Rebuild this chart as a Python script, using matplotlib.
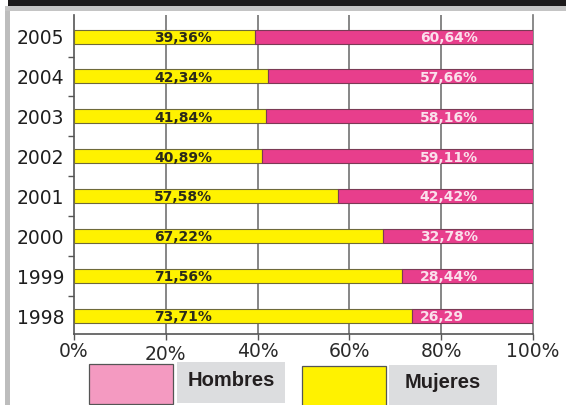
import numpy as np
import matplotlib
matplotlib.use("Agg")
import matplotlib.pyplot as plt
import matplotlib.transforms as mtransforms
from matplotlib.patches import Rectangle

# data (percent), top to bottom as in the picture
years = ["2005", "2004", "2003", "2002", "2001", "2000", "1999", "1998"]
mujeres = [39.36, 42.34, 41.84, 40.89, 57.58, 67.22, 71.56, 73.71]
hombres = [60.64, 57.66, 58.16, 59.11, 42.42, 32.78, 28.44, 26.29]
muj_labels = ["39,36%", "42,34%", "41,84%", "40,89%", "57,58%", "67,22%", "71,56%", "73,71%"]
hom_labels = ["60,64%", "57,66%", "58,16%", "59,11%", "42,42%", "32,78%", "28,44%", "26,29"]
xticks = [0, 20, 40, 60, 80, 100]

YELLOW = "#fff200"
MAGENTA = "#e83e8c"
PINK = "#f49ac1"
GREYBOX = "#dcdddf"

W, H = 566, 405
fig = plt.figure(figsize=(W / 100, H / 100), dpi=100)
fig.patch.set_facecolor("white")


def px_rect(x0, y0, x1, y1, **kw):
    # rectangle given in pixels, origin top-left
    r = Rectangle((x0 / W, 1 - y1 / H), (x1 - x0) / W, (y1 - y0) / H,
                  transform=fig.transFigure, **kw)
    fig.add_artist(r)
    return r


# frame decoration
px_rect(8, 0, W, 6, facecolor="#1c1a1b", edgecolor="none")
px_rect(5, 6, W, 11, facecolor="#c4c4c4", edgecolor="none")
px_rect(5, 11, 10, H, facecolor="#bdbdbd", edgecolor="none")

# axes area in pixels: x 74..533, y 15..334
ax = fig.add_axes([74 / W, 1 - 334 / H, (533 - 74) / W, (334 - 15) / H])
ypos = np.arange(len(years))

ax.barh(ypos, mujeres, height=0.35, color=YELLOW, edgecolor="#6e6a3a",
        linewidth=0.8, zorder=3)
ax.barh(ypos, hombres, left=mujeres, height=0.35, color=MAGENTA,
        edgecolor="#7a3a55", linewidth=0.8, zorder=3)

for i in ypos:
    ax.text(17.5, i + 0.03, muj_labels[i], ha="left", va="center",
            fontsize=10, fontweight="bold", color="#2a2a1a",
            family="DejaVu Sans", zorder=4)
    ax.text(75.3, i + 0.03, hom_labels[i], ha="left", va="center",
            fontsize=10, fontweight="bold", color="#fbe0ec",
            family="DejaVu Sans", zorder=4)

ax.set_xlim(0, 100)
ax.set_ylim(7.45, -0.54)
ax.set_xticks(xticks)
ax.set_xticklabels([f"{t}%" for t in xticks], fontsize=13.5,
                   family="DejaVu Sans", color="#2a2a2a")
ax.set_yticks(ypos)
ax.set_yticklabels(years, fontsize=13.5, family="DejaVu Sans", color="#1e1e1e")
ax.set_yticks(ypos[:-1] + 0.5, minor=True)
ax.tick_params(axis="y", which="major", length=0, pad=7)
ax.tick_params(axis="y", which="minor", length=4, width=1, color="#555555")
ax.tick_params(axis="x", length=4, width=1, color="#555555", pad=2)

# the "20%" label sits a little lower in the original
lbl = ax.get_xticklabels()[1]
lbl.set_transform(lbl.get_transform() +
                  mtransforms.ScaledTranslation(0, -2 / 72, fig.dpi_scale_trans))

for x in xticks[1:-1]:
    ax.axvline(x, color="#666666", linewidth=1.1, zorder=1)

ax.spines["top"].set_visible(False)
ax.spines["left"].set_color("#555555")
ax.spines["bottom"].set_color("#555555")
ax.spines["right"].set_color("#777777")
for s in ["left", "bottom", "right"]:
    ax.spines[s].set_linewidth(1.2)

# legend built from boxes
px_rect(89, 364, 173, 404, facecolor=PINK, edgecolor="#555555", linewidth=0.9)
px_rect(177, 362, 285, 403, facecolor=GREYBOX, edgecolor="none")
fig.text(231 / W, 1 - 381 / H, "Hombres", ha="center", va="center",
         fontsize=14.5, fontweight="bold", color="#231f20",
         family="Liberation Sans")
px_rect(302, 366, 386, 407, facecolor=YELLOW, edgecolor="#555555", linewidth=0.9)
px_rect(389, 365, 497, 405, facecolor=GREYBOX, edgecolor="none")
fig.text(443 / W, 1 - 383 / H, "Mujeres", ha="center", va="center",
         fontsize=14.5, fontweight="bold", color="#231f20",
         family="Liberation Sans")

fig.savefig("out.png", dpi=100)
